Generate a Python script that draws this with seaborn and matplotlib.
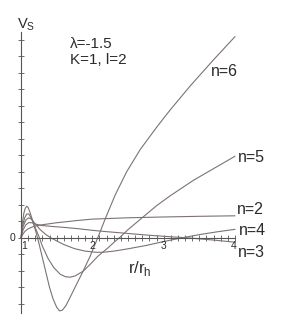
import matplotlib
matplotlib.use("Agg")
import matplotlib.pyplot as plt
import numpy as np
import pandas as pd
import seaborn as sns

# curves V_S(r/r_h), values
x6 = [1.0, 1.02, 1.04, 1.06, 1.08, 1.10, 1.13, 1.17, 1.21, 1.25, 1.30, 1.35, 1.40, 1.45, 1.50,
      1.54, 1.58, 1.63, 1.70, 1.78, 1.87, 1.97, 2.08, 2.18, 2.32, 2.48, 2.67, 2.90, 3.09,
      3.37, 3.70, 4.0]
y6 = [0.0, 0.9, 1.5, 1.8, 1.92, 1.85, 1.5, 0.95, 0.35, -0.3, -1.2, -2.1, -3.0, -3.7, -4.2,
      -4.42, -4.38, -4.1, -3.5, -2.8, -2.02, -1.1, 0.05, 1.15, 2.6, 4.0, 5.35, 6.7, 7.75,
      9.2, 10.8, 12.2]

x5 = [1.0, 1.02, 1.05, 1.08, 1.11, 1.15, 1.20, 1.25, 1.30, 1.38, 1.46, 1.55, 1.62, 1.69, 1.76,
      1.87, 1.97, 2.08, 2.22, 2.30, 2.39, 2.50, 2.72, 2.90, 3.09, 3.42, 3.70, 4.0]
y5 = [0.0, 0.7, 1.2, 1.45, 1.45, 1.15, 0.62, 0.1, -0.5, -1.25, -1.8, -2.2, -2.35, -2.38, -2.3,
      -2.02, -1.6, -1.1, -0.6, -0.28, 0.05, 0.5, 1.3, 1.95, 2.55, 3.5, 4.2, 4.95]

x4 = [1.0, 1.03, 1.07, 1.11, 1.15, 1.20, 1.27, 1.35, 1.42, 1.50, 1.60, 1.75, 1.90, 2.05, 2.15,
      2.30, 2.50, 2.75, 3.00, 3.25, 3.50, 3.75, 4.0]
y4 = [0.0, 0.7, 1.1, 1.22, 1.12, 0.85, 0.5, 0.2, 0.0, -0.18, -0.4, -0.65, -0.8, -0.87, -0.87,
      -0.8, -0.66, -0.46, -0.22, 0.0, 0.2, 0.37, 0.52]

x3 = [1.0, 1.03, 1.07, 1.11, 1.15, 1.20, 1.30, 1.45, 1.60, 1.80, 2.00, 2.20, 2.50, 2.80, 3.00,
      3.35, 3.70, 4.0]
y3 = [0.0, 0.5, 0.8, 0.93, 0.92, 0.84, 0.75, 0.69, 0.64, 0.56, 0.46, 0.38, 0.27, 0.16, 0.1,
      0.0, -0.13, -0.26]

x2 = [1.0, 1.03, 1.06, 1.10, 1.15, 1.20, 1.30, 1.50, 1.80, 2.00, 2.50, 3.00, 3.50, 4.0]
y2 = [0.0, 0.25, 0.42, 0.55, 0.65, 0.72, 0.8, 0.92, 1.06, 1.14, 1.22, 1.27, 1.31, 1.34]

curves = {"n=6": (x6, y6), "n=5": (x5, y5), "n=4": (x4, y4), "n=3": (x3, y3), "n=2": (x2, y2)}
label_pos = {"n=6": (3.66, 10.1), "n=5": (4.04, 4.88), "n=2": (4.02, 1.7),
             "n=4": (4.06, 0.48), "n=3": (4.04, -0.88)}

sns.set_theme(style="white")
plt.rcParams["font.family"] = ["Liberation Sans", "DejaVu Sans"]
plt.rcParams["mathtext.fontset"] = "custom"
plt.rcParams["mathtext.rm"] = "Liberation Sans"

fig = plt.figure(figsize=(2.95, 3.27), dpi=100)
ax = fig.add_axes([21 / 295, 14 / 327, 214 / 295, 281 / 327])

line_col = "#7d7272"
txt_col = "#2b2b2b"
for name, (xs, ys) in curves.items():
    df = pd.DataFrame({"r": xs, "V": ys})
    sns.lineplot(data=df, x="r", y="V", ax=ax, color=line_col, lw=0.8,
                 sort=False, estimator=None, clip_on=False)
    lx, ly = label_pos[name]
    ax.text(lx, ly, name, fontsize=11.5, color=txt_col, va="center", ha="left")

ax.set_xlim(1, 4)
ax.set_ylim(-4.55, 12.48)
ax.set_xlabel("")
ax.set_ylabel("")

for s in ["top", "right"]:
    ax.spines[s].set_visible(False)
ax.spines["bottom"].set_position(("data", 0))
ax.spines["left"].set_position(("data", 1))
for s in ["bottom", "left"]:
    ax.spines[s].set_color("#555555")
    ax.spines[s].set_linewidth(0.8)

ax.set_xticks([1, 2, 3, 4])
ax.set_xticks(np.arange(1, 4.01, 0.1), minor=True)
ax.set_xticklabels([])
ax.set_yticks(np.arange(-4, 13, 1))
ax.set_yticklabels([])
ax.tick_params(axis="both", which="both", direction="inout", color="#555555", width=0.6,
               bottom=True, left=True)
ax.tick_params(axis="x", which="major", length=5)
ax.tick_params(axis="x", which="minor", length=4)
ax.tick_params(axis="y", which="major", length=4)

for v, off in zip([1, 2, 3, 4], [0.05, 0, 0, -0.02]):
    ax.text(v + off, -0.2, str(v), fontsize=7.5, color=txt_col, ha="center", va="top")
ax.text(0.92, 0, "0", fontsize=7.5, color=txt_col, ha="right", va="center")

ax.text(0.945, 12.7, r"V$_\mathregular{S}$", fontsize=10.5, color=txt_col,
        ha="left", va="baseline", clip_on=False)
ax.text(1.69, 11.76, "λ=-1.5", fontsize=11, color=txt_col, va="center", ha="left")
ax.text(1.69, 10.79, "K=1, l=2", fontsize=11, color=txt_col, va="center", ha="left")
ax.text(2.5, -1.88, r"r/r$_\mathregular{h}$", fontsize=12, color=txt_col, va="center", ha="left")

fig.savefig("out.png", dpi=100)
